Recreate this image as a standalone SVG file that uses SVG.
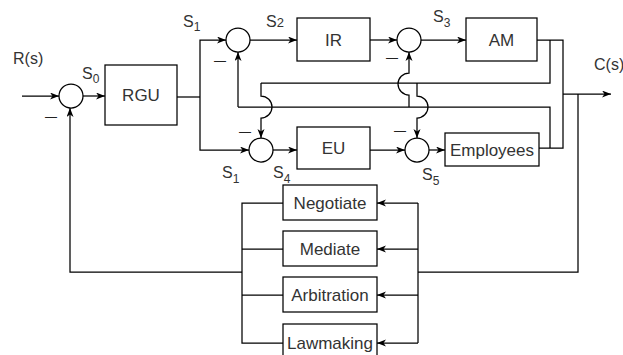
<svg xmlns="http://www.w3.org/2000/svg" width="623" height="355" viewBox="0 0 623 355">
  <style>
    .box { fill: #ffffff; stroke: #000000; stroke-width: 1.25; }
    .sum { fill: #ffffff; stroke: #000000; stroke-width: 1.25; }
    .wire { fill: none; stroke: #000000; stroke-width: 1.25; }
    .arr { marker-end: url(#arrow); }
    .lbl { font-family: "Liberation Sans", Arial, sans-serif; font-size: 17px; fill: #333333; text-anchor: middle; }
    .sig { font-family: "Liberation Sans", Arial, sans-serif; font-size: 16px; fill: #333333; }
    .neg { font-family: "Liberation Sans", Arial, sans-serif; font-size: 12px; fill: #222222; text-anchor: middle; }
  </style>
  <defs>
    <marker id="arrow" markerUnits="userSpaceOnUse" markerWidth="10" markerHeight="8" refX="9" refY="3.5" orient="auto">
      <path d="M0,0 L9,3.5 L0,7 L2.5,3.5 z" fill="#000000"/>
    </marker>
  </defs>
  <rect width="623" height="355" fill="#ffffff"/>

  <!-- connectors -->
  <g id="connectors">
    <!-- reference input and main forward path -->
    <path class="wire arr" d="M22,96 L59,96"/>
    <path class="wire arr" d="M83,96 L105,96"/>
    <path class="wire" d="M177,97 L200,97"/>
    <path class="wire arr" d="M200,97 L200,40 L226,40"/>
    <path class="wire arr" d="M200,97 L200,150 L249,150"/>
    <path class="wire arr" d="M250,40 L297,40"/>
    <path class="wire arr" d="M370,40 L397,40"/>
    <path class="wire arr" d="M421,40 L466,40"/>
    <path class="wire arr" d="M273,150 L297,150"/>
    <path class="wire arr" d="M370,150 L405,150"/>
    <path class="wire arr" d="M429,150 L445,150"/>

    <!-- AM / Employees outputs joined to the plant output -->
    <path class="wire" d="M537,40 L563,40 L563,148 L539,148"/>
    <path class="wire arr" d="M563,94 L611,94"/>

    <!-- AM cross-feedback to the EU and Employees summers -->
    <path class="wire" d="M550,40 L550,83 L261,83"/>
    <path class="wire arr" d="M261,83 L261,96 A11,11 0 0 1 261,118 L261,138"/>
    <path class="wire arr" d="M417,83 L417,96 A11,11 0 0 1 417,118 L417,138"/>

    <!-- Employees cross-feedback to the IR and AM summers -->
    <path class="wire" d="M550,148 L550,107 L238,107"/>
    <path class="wire arr" d="M238,107 L238,52"/>
    <path class="wire arr" d="M409,107 L409,95 A11,11 0 0 1 409,73 L409,52"/>

    <!-- outer loop through the resolution mechanisms -->
    <path class="wire" d="M578,94 L578,272 L418,272"/>
    <path class="wire" d="M418,203 L418,343"/>
    <path class="wire arr" d="M418,203 L377,203"/>
    <path class="wire arr" d="M418,249 L377,249"/>
    <path class="wire arr" d="M418,295 L377,295"/>
    <path class="wire arr" d="M418,343 L377,343"/>
    <path class="wire" d="M283,203 L242,203 L242,343 L283,343"/>
    <path class="wire" d="M283,249 L242,249"/>
    <path class="wire" d="M283,295 L242,295"/>
    <path class="wire arr" d="M242,272 L70,272 L70,108"/>
  </g>

  <!-- summing junctions -->
  <g id="sum0">
    <circle class="sum" cx="71" cy="96" r="12"/>
    <text class="neg" x="51" y="120.5">—</text>
  </g>
  <g id="sum2">
    <circle class="sum" cx="238" cy="40" r="12"/>
    <text class="neg" x="220" y="64.5">—</text>
  </g>
  <g id="sum3">
    <circle class="sum" cx="409" cy="40" r="12"/>
    <text class="neg" x="392" y="62">—</text>
  </g>
  <g id="sum4">
    <circle class="sum" cx="261" cy="150" r="12"/>
    <text class="neg" x="245" y="135.5">—</text>
  </g>
  <g id="sum5">
    <circle class="sum" cx="417" cy="150" r="12"/>
    <text class="neg" x="400" y="134.5">—</text>
  </g>

  <!-- blocks -->
  <g id="rgu">
    <rect class="box" x="105" y="65" width="72" height="60"/>
    <text class="lbl" x="141" y="101">RGU</text>
  </g>
  <g id="ir">
    <rect class="box" x="297" y="18" width="73" height="43"/>
    <text class="lbl" x="333.5" y="46">IR</text>
  </g>
  <g id="am">
    <rect class="box" x="466" y="18" width="71" height="43"/>
    <text class="lbl" x="501.5" y="46">AM</text>
  </g>
  <g id="eu">
    <rect class="box" x="297" y="127" width="73" height="42"/>
    <text class="lbl" x="333.5" y="154">EU</text>
  </g>
  <g id="employees">
    <rect class="box" x="445" y="133" width="94" height="33"/>
    <text class="lbl" x="492" y="155.5">Employees</text>
  </g>
  <g id="negotiate">
    <rect class="box" x="283" y="185" width="94" height="35"/>
    <text class="lbl" x="330" y="209">Negotiate</text>
  </g>
  <g id="mediate">
    <rect class="box" x="283" y="231" width="94" height="35"/>
    <text class="lbl" x="330" y="255">Mediate</text>
  </g>
  <g id="arbitration">
    <rect class="box" x="283" y="277" width="94" height="35"/>
    <text class="lbl" x="330" y="301">Arbitration</text>
  </g>
  <g id="lawmaking">
    <rect class="box" x="283" y="324" width="94" height="35"/>
    <text class="lbl" x="330" y="348.5">Lawmaking</text>
  </g>

  <!-- signal labels -->
  <g id="signals">
    <text class="sig" x="13" y="64">R(s)</text>
    <text class="sig" x="594" y="70">C(s)</text>
    <text class="sig" x="82" y="79">S<tspan font-size="12" dy="3.5">0</tspan></text>
    <text class="sig" x="183" y="27">S<tspan font-size="12" dy="4">1</tspan></text>
    <text class="sig" x="266" y="27">S<tspan font-size="13">2</tspan></text>
    <text class="sig" x="433" y="22">S<tspan font-size="12" dy="5">3</tspan></text>
    <text class="sig" x="222" y="178">S<tspan font-size="12" dy="5">1</tspan></text>
    <text class="sig" x="273" y="178">S<tspan font-size="12" dy="5">4</tspan></text>
    <text class="sig" x="422" y="180">S<tspan font-size="12" dy="5">5</tspan></text>
  </g>
</svg>
